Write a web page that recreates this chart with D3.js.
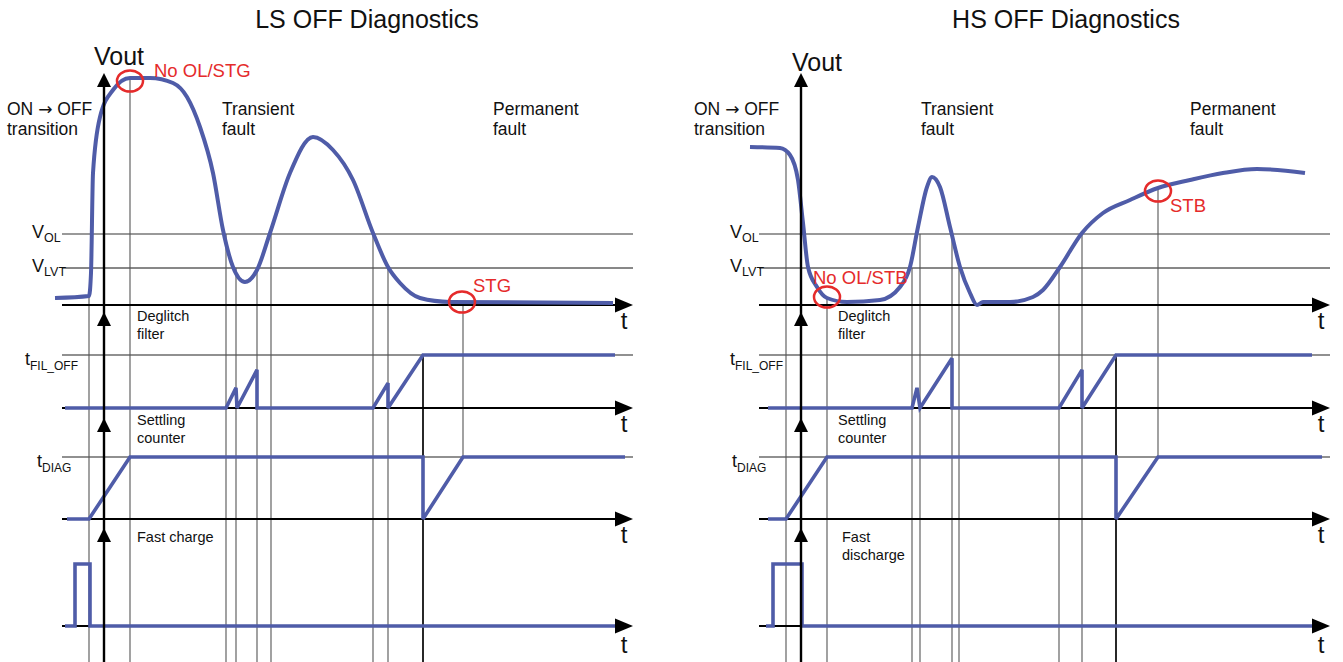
<!DOCTYPE html>
<html><head><meta charset="utf-8">
<script src="https://cdn.jsdelivr.net/npm/d3@7"></script>
<style>body{margin:0;background:#fff}svg{display:block;font-family:"Liberation Sans",Arial,sans-serif}</style>
</head><body><svg id="c" width="1343" height="662"></svg>
<script>
// ---------- DATA (time offset from the Vout axis, voltage / counter levels) ----------
const panelTitles = ["LS OFF Diagnostics", "HS OFF Diagnostics"];
const phaseLabels = [["ON \u2192 OFF", "transition"], ["Transient", "fault"], ["Permanent", "fault"]];
const thresholdNames = ["OL", "LVT"];
const thresholdValues = [71, 37];            // V_OL, V_LVT (Vout units)
const counterLevelNames = ["FIL_OFF", "DIAG"];
const rowNames = [["Deglitch", "filter"], ["Settling", "counter"]];
const chargeNames = [["Fast charge"], ["Fast", "discharge"]];

// LS: Vout (t, v)
const lsVout = [[-49,7],[-15,9],[-13,32],[-11,132],[-4,188],[9,215],[26,227],[46,227],[69,222],[83,208],[96,178],[109,132],[119,75],[129,38],[141,23],[153,35],[166,72],[186,132],[209,168],[229,155],[249,125],[269,72],[284,38],[296,22],[316,7],[346,3],[509,2]];
const lsFilter = [[-39,0],[122,0],[132,0.38],[133,0],[153,0.72],[153,0],[269,0],[284,0.47],[284,0],[319,1],[511,1]];
const lsSettle = [[-37,0],[-15,0],[26,1],[319,1],[319,0],[359,1],[521,1]];
const lsFast = [[-39,0],[-29,0],[-29,1],[-14,1],[-14,0],[511,0]];
// marker lines: t, from (row, value), to (row, value) ; row "end" = bottom of picture
const lsMarkers = [
  {t:-15, from:["v",9], to:["end"], k:"thin"},
  {t:26, from:["v",227], to:["end"], k:"thin"},
  {t:122, from:["v",71], to:["end"], k:"thin"},
  {t:132, from:["v",37], to:["end"], k:"thin"},
  {t:153, from:["v",37], to:["end"], k:"thin"},
  {t:167, from:["v",71], to:["end"], k:"thin"},
  {t:269, from:["v",71], to:["end"], k:"thin"},
  {t:284, from:["v",37], to:["end"], k:"thin"},
  {t:319, from:["f",1], to:["end"], k:"thick"},
  {t:359, from:["v",3], to:["s",1], k:"thin"}
];
const lsCircles = [{t:26, v:224, label:"No OL/STG"}, {t:358, v:3, label:"STG"}];

// HS
const hsVout = [[-51,158],[-21,157],[-11,150],[-3,125],[2,82],[7,38],[16,18],[26,7],[46,3],[79,5],[99,18],[109,38],[117,78],[126,118],[131,128],[139,118],[149,78],[159,38],[169,12],[176,0],[182,3],[209,3],[232,8],[242,15],[259,38],[281,72],[302,92],[329,105],[357,117],[389,125],[422,132],[456,136],[504,132]];
const hsFilter = [[-33,0],[111,0],[116,0.38],[119,0],[151,0.94],[151,0],[258,0],[281,0.72],[281,0],[315,1],[511,1]];
const hsSettle = [[-33,0],[-15,0],[26,1],[315,1],[315,0],[357,1],[521,1]];
const hsFast = [[-35,0],[-28,0],[-28,1],[1,1],[1,0],[512,0]];
const hsMarkers = [
  {t:-15, from:["v",155], to:["end"], k:"thin"},
  {t:26, from:["v",7], to:["end"], k:"thin"},
  {t:111, from:["v",37], to:["end"], k:"thin"},
  {t:119, from:["v",71], to:["end"], k:"thin"},
  {t:151, from:["v",71], to:["end"], k:"thin"},
  {t:158, from:["v",37], to:["end"], k:"thin"},
  {t:258, from:["v",37], to:["end"], k:"thin"},
  {t:281, from:["v",71], to:["end"], k:"thin"},
  {t:315, from:["f",1], to:["end"], k:"thick"},
  {t:357, from:["v",117], to:["s",1], k:"thin"}
];
const hsCircles = [{t:26, v:8, label:"No OL/STB"}, {t:357, v:114, label:"STB"}];

// ---------- LAYOUT ----------
const svg = d3.select("#c");
const BLUE = "#4f5ca8", RED = "#e52b2b";
const yV = d3.scaleLinear().domain([0,232]).range([305,73]);
const yF = d3.scaleLinear().domain([0,1]).range([408,355]);
const yS = d3.scaleLinear().domain([0,1]).range([519,457]);
const yK = d3.scaleLinear().domain([0,1]).range([626,564]);
const rowScale = {v:yV, f:yF, s:yS, k:yK};
const yOf = (spec) => spec[0] === "end" ? 662 : rowScale[spec[0]](spec[1]);

const panels = [
  {title:panelTitles[0], range:[62,633], titleX:367, vout:lsVout, filter:lsFilter, settle:lsSettle, fast:lsFast, markers:lsMarkers, circles:lsCircles,
   voutLbl:[94,65], phaseX:[7,222,493], thrLblX:32, filLblX:25, diagLblX:37, rowLblX:137, charge:chargeNames[0],
   circleLbl:[[154,77],[473,292]]},
  {title:panelTitles[1], range:[759,1330], titleX:1066, vout:hsVout, filter:hsFilter, settle:hsSettle, fast:hsFast, markers:hsMarkers, circles:hsCircles,
   voutLbl:[792,71], phaseX:[694,921,1190], thrLblX:730, filLblX:730, diagLblX:732, rowLblX:838, charge:chargeNames[1],
   circleLbl:[[813,284],[1170,212]]}
];

panels.forEach(p => {
  const x = d3.scaleLinear().domain([-42,529]).range(p.range);
  const g = svg.append("g");
  const x0 = p.range[0], x1 = p.range[1];

  // title
  g.append("text").attr("x", p.titleX).attr("y", 28).attr("text-anchor","middle")
    .attr("font-size", 25).attr("fill","#111").text(p.title);
  // phase labels
  phaseLabels.forEach((lines, i) => {
    const t = g.append("text").attr("x", p.phaseX[i]).attr("y", 115).attr("font-size", 17.5).attr("fill","#111");
    lines.forEach((s, j) => {
      const ts = t.append("tspan").attr("x", p.phaseX[i]).attr("y", 115 + j*20);
      if (s.includes("\u2192")) {
        const parts = s.split("\u2192");
        ts.text(parts[0]);
        t.append("tspan").attr("font-family", "DejaVu Sans").attr("font-size", 17).text("\u2192");
        t.append("tspan").text(parts[1]);
      } else ts.text(s);
    });
  });

  // threshold lines
  thresholdValues.forEach((v, i) => {
    g.append("line").attr("x1", x0).attr("x2", x1).attr("y1", yV(v)).attr("y2", yV(v))
      .attr("stroke", i === 0 ? "#777" : "#111").attr("stroke-width", i === 0 ? 1.3 : 1);
    const t = g.append("text").attr("x", p.thrLblX).attr("y", yV(v) + 4).attr("font-size", 18).attr("fill","#111");
    t.append("tspan").text("V");
    t.append("tspan").attr("font-size", 12.5).attr("dy", 4).text(thresholdNames[i]);
  });
  // counter level lines
  [[yF, p.filLblX], [yS, p.diagLblX]].forEach(([sc, lx], i) => {
    g.append("line").attr("x1", x0).attr("x2", x1).attr("y1", sc(1)).attr("y2", sc(1))
      .attr("stroke", "#222").attr("stroke-width", 1.2);
    const t = g.append("text").attr("x", lx).attr("y", sc(1) + 10).attr("font-size", 18).attr("fill","#111");
    t.append("tspan").text("t");
    t.append("tspan").attr("font-size", 12).attr("dy", 5).text(counterLevelNames[i]);
  });

  // marker lines
  p.markers.forEach(m => {
    g.append("line").attr("x1", x(m.t)).attr("x2", x(m.t)).attr("y1", yOf(m.from)).attr("y2", yOf(m.to))
      .attr("stroke", m.k === "thick" ? "#111" : "#555").attr("stroke-width", m.k === "thick" ? 1.8 : 1.1);
  });

  // row axes
  [yV(0), yF(0), yS(0), yK(0)].forEach(y => {
    g.append("line").attr("x1", x0).attr("x2", x1 - 10).attr("y1", y).attr("y2", y)
      .attr("stroke", "#000").attr("stroke-width", 2.2);
  });

  // blue traces
  const lineV = d3.line().x(d => x(d[0])).y(d => yV(d[1])).curve(d3.curveMonotoneX);
  g.append("path").attr("d", lineV(p.vout)).attr("fill","none").attr("stroke", BLUE)
    .attr("stroke-width", 4).attr("stroke-linejoin","round").attr("stroke-linecap","butt");
  [[p.filter, yF], [p.settle, yS], [p.fast, yK]].forEach(([data, sc]) => {
    const ln = d3.line().x(d => x(d[0])).y(d => sc(d[1]));
    g.append("path").attr("d", ln(data)).attr("fill","none").attr("stroke", BLUE)
      .attr("stroke-width", 3.6).attr("stroke-linejoin","miter").attr("stroke-miterlimit", 3);
  });

  // arrowheads + t labels
  [yV(0), yF(0), yS(0), yK(0)].forEach((y, i) => {
    g.append("path").attr("d", `M${x1},${y} L${x1-18},${y-7.5} L${x1-18},${y+7.5} Z`).attr("fill", "#000");
    g.append("text").attr("x", x1 - 9).attr("y", y + 24 + (i === 3 ? 3 : 0)).attr("text-anchor","middle")
      .attr("font-size", 24).attr("fill","#111").text("t");
  });

  // Vout vertical axis
  const ax = x(0);
  g.append("line").attr("x1", ax).attr("x2", ax).attr("y1", 662).attr("y2", yV(232) + 6)
    .attr("stroke", "#000").attr("stroke-width", 2.4);
  [yV(232), 312, 418, 528].forEach(ty => {
    g.append("path").attr("d", `M${ax},${ty} L${ax-7},${ty+14} L${ax+7},${ty+14} Z`).attr("fill","#000");
  });
  g.append("text").attr("x", p.voutLbl[0]).attr("y", p.voutLbl[1]).attr("font-size", 25).attr("fill","#111").text("Vout");

  // row labels
  const rowYs = [321, 425];
  rowNames.forEach((lines, i) => {
    const t = g.append("text").attr("font-size", 14.5).attr("fill","#111");
    lines.forEach((s, j) => t.append("tspan").attr("x", p.rowLblX).attr("y", rowYs[i] + j*17.5).text(s));
  });
  const ct = g.append("text").attr("font-size", 14.5).attr("fill","#111");
  p.charge.forEach((s, j) => ct.append("tspan").attr("x", p.rowLblX + (p.charge.length > 1 ? 4 : 0)).attr("y", 542 + j*17.5).text(s));

  // red circles and labels
  p.circles.forEach((c, i) => {
    g.append("ellipse").attr("cx", x(c.t)).attr("cy", yV(c.v)).attr("rx", 13).attr("ry", 10.5)
      .attr("fill","none").attr("stroke", RED).attr("stroke-width", 2.5);
    g.append("text").attr("x", p.circleLbl[i][0]).attr("y", p.circleLbl[i][1]).attr("font-size", 18.5)
      .attr("fill", RED).text(c.label);
  });
});
</script></body></html>
